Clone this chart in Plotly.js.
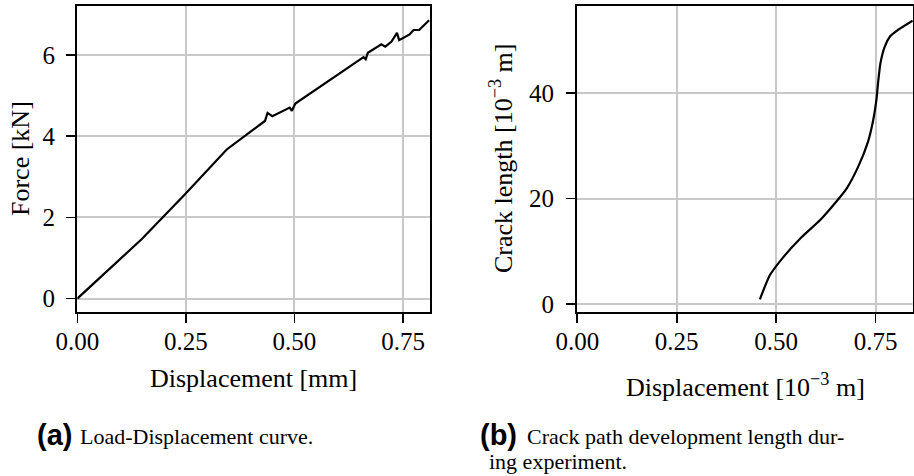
<!DOCTYPE html>
<html>
<head>
<meta charset="utf-8">
<script src="https://cdn.plot.ly/plotly-3.0.1.min.js"></script>
<style>html,body{margin:0;padding:0;background:#fff;}#chart{width:914px;height:476px;}</style>
</head>
<body>
<div id="chart"></div>
<script>
// (a) Load-Displacement curve
const dispA = [0, 0.148, 0.248, 0.344, 0.432, 0.438, 0.449, 0.489, 0.494, 0.502, 0.659, 0.664, 0.669, 0.700, 0.709, 0.723, 0.736, 0.741, 0.765, 0.774, 0.787, 0.810];
const forceA = [0, 1.46, 2.57, 3.67, 4.37, 4.57, 4.49, 4.70, 4.62, 4.80, 5.94, 5.89, 6.05, 6.26, 6.20, 6.32, 6.54, 6.36, 6.50, 6.61, 6.61, 6.85];
// (b) Crack path development length
const dispB = [0.459, 0.484, 0.518, 0.560, 0.610, 0.643, 0.677, 0.706, 0.731, 0.744, 0.752, 0.756, 0.762, 0.773, 0.787, 0.803, 0.843];
const crackB = [0.9, 5.45, 8.9, 12.4, 15.9, 18.7, 21.9, 26.0, 30.8, 34.9, 38.7, 41.8, 45.6, 48.8, 50.8, 51.8, 53.7];
const xTicks = [0, 0.25, 0.5, 0.75];
const xTickText = ["0.00", "0.25", "0.50", "0.75"];
const yTicksA = [0, 2, 4, 6];
const yTicksB = [0, 20, 40];

const serif = "Liberation Serif, Times New Roman, serif";
const W = 914, H = 476;
const px = v => v / W;
const py = v => 1 - v / H;

function axisBase(extra) {
  return Object.assign({
    showline: true, mirror: true, linecolor: "#000", linewidth: 2.4,
    showgrid: true, gridcolor: "#c8c8c8", gridwidth: 2,
    zeroline: false,
    ticks: "outside", ticklen: 9, tickwidth: 1.6, tickcolor: "#000",
    tickfont: {family: serif, size: 25, color: "#000"},
    automargin: false, fixedrange: true
  }, extra);
}

const data = [
  {x: dispA, y: forceA, xaxis: "x", yaxis: "y", type: "scatter", mode: "lines",
   line: {color: "#000", width: 2.2}, hoverinfo: "skip"},
  {x: dispB, y: crackB, xaxis: "x2", yaxis: "y2", type: "scatter", mode: "lines",
   line: {color: "#000", width: 2.2, shape: "spline", smoothing: 0.5}, hoverinfo: "skip"}
];

const layout = {
  width: W, height: H,
  margin: {l: 0, r: 0, t: 0, b: 0},
  paper_bgcolor: "#fff", plot_bgcolor: "#fff",
  showlegend: false,
  xaxis: axisBase({domain: [px(77.3), px(430)], range: [0, 0.812], anchor: "y",
    tickvals: xTicks, ticktext: xTickText, ticklabelstandoff: -3}),
  yaxis: axisBase({domain: [py(312), py(6)], range: [-0.33, 7.2], anchor: "x",
    tickvals: yTicksA, ticklabelstandoff: 6}),
  xaxis2: axisBase({domain: [px(577.3), px(913)], range: [0, 0.844], anchor: "y2",
    tickvals: xTicks, ticktext: xTickText, ticklabelstandoff: -3}),
  yaxis2: axisBase({domain: [py(312), py(6)], range: [-1.5, 56.5], anchor: "x2",
    tickvals: yTicksB, ticklabelstandoff: 7}),
  annotations: [
    {text: "Displacement [mm]", x: px(253.6), y: py(378), xref: "paper", yref: "paper",
     xanchor: "center", yanchor: "middle", showarrow: false, font: {family: serif, size: 26, color: "#000"}},
    {text: "Force [kN]", x: px(21), y: py(159), xref: "paper", yref: "paper", textangle: -90,
     xanchor: "center", yanchor: "middle", showarrow: false, font: {family: serif, size: 26, color: "#000"}},
    {text: "Displacement [10<sup>−3</sup> m]", x: px(745), y: py(385), xref: "paper", yref: "paper",
     xanchor: "center", yanchor: "middle", showarrow: false, font: {family: serif, size: 26, color: "#000"}},
    {text: "Crack length [10<sup>−3</sup> m]", x: px(502), y: py(159), xref: "paper", yref: "paper", textangle: -90,
     xanchor: "center", yanchor: "middle", showarrow: false, font: {family: serif, size: 26, color: "#000"}},
    {text: "<b>(a)</b>", x: px(74), y: py(435), xref: "paper", yref: "paper",
     xanchor: "right", yanchor: "middle", showarrow: false,
     font: {family: "Liberation Sans Narrow, Liberation Sans, Arial, sans-serif", size: 29, color: "#000"}},
    {text: "Load-Displacement curve.", x: px(78), y: py(436), xref: "paper", yref: "paper",
     xanchor: "left", yanchor: "middle", showarrow: false, font: {family: serif, size: 22, color: "#000"}},
    {text: "<b>(b)</b>", x: px(519), y: py(435), xref: "paper", yref: "paper",
     xanchor: "right", yanchor: "middle", showarrow: false,
     font: {family: "Liberation Sans Narrow, Liberation Sans, Arial, sans-serif", size: 29, color: "#000"}},
    {text: "Crack path development length dur-", x: px(525), y: py(436), xref: "paper", yref: "paper",
     xanchor: "left", yanchor: "middle", showarrow: false, font: {family: serif, size: 22, color: "#000"}},
    {text: "ing experiment.", x: px(487), y: py(461), xref: "paper", yref: "paper",
     xanchor: "left", yanchor: "middle", showarrow: false, font: {family: serif, size: 22, color: "#000"}}
  ]
};

Plotly.newPlot("chart", data, layout, {displayModeBar: false, staticPlot: true});
</script>
</body>
</html>
